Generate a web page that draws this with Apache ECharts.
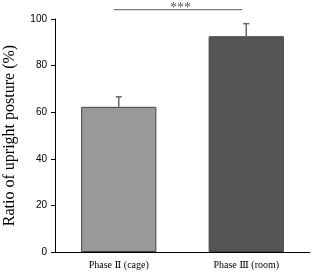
<!DOCTYPE html>
<html>
<head>
<meta charset="utf-8">
<title>Upright posture</title>
<script src="https://cdn.jsdelivr.net/npm/echarts@6/dist/echarts.min.js"></script>
<style>
html, body {
	margin: 0;
	padding: 0;
	background: #fff;
}
#chart {
	width: 312px;
	height: 272px;
}
</style>
</head>
<body>
<div id="chart"></div>
<script type="text/javascript">
    // data
    var categories = ['Phase \u2161 (cage)', 'Phase \u2162 (room)'];
    var means = [62.3, 92.6];
    var errors = [4.3, 5.4];
    var barColors = ['#999999', '#555555'];
    var sigLabel = '***';
    var sigLevel = 104;

    var chart = echarts.init(document.getElementById('chart'));

    var barData = means.map(function (v, i) {
        return { value: v, itemStyle: { color: barColors[i] } };
    });
    var errData = means.map(function (v, i) {
        return [i, v, v + errors[i]];
    });

    var serif = '"Liberation Serif", "DejaVu Serif", serif';

    var option = {
        animation: false,
        grid: { left: 55, right: 2, top: 19, bottom: 20, outerBoundsMode: 'none' },
        xAxis: {
            type: 'category',
            data: categories,
            axisLine: { lineStyle: { color: '#000', width: 1 } },
            axisTick: { inside: true, length: 4, lineStyle: { color: '#000' } },
            axisLabel: {
                fontFamily: serif,
                fontSize: 10,
                color: '#000',
                margin: 8
            }
        },
        yAxis: {
            type: 'value',
            min: 0,
            max: 100,
            interval: 20,
            name: 'Ratio of upright posture (%)',
            nameLocation: 'middle',
            nameGap: 37,
            nameTextStyle: {
                fontFamily: serif,
                fontSize: 16,
                color: '#000'
            },
            splitLine: { show: false },
            axisLine: { show: true, lineStyle: { color: '#000', width: 1 } },
            axisTick: { show: true, length: 4, lineStyle: { color: '#000' } },
            axisLabel: {
                fontFamily: 'Arial, "Liberation Sans"',
                fontSize: 10,
                color: '#000',
                margin: 8
            }
        },
        series: [{
            type: 'bar',
            data: barData,
            barWidth: '59%',
            itemStyle: { borderColor: '#444', borderWidth: 1 }
        }, {
            // upper error bars
            type: 'custom',
            data: errData,
            z: 3,
            renderItem: function (params, api) {
                var lo = api.coord([api.value(0), api.value(1)]);
                var hi = api.coord([api.value(0), api.value(2)]);
                var st = { stroke: '#666', lineWidth: 1.5 };
                return {
                    type: 'group',
                    children: [{
                        type: 'line',
                        shape: { x1: lo[0], y1: lo[1], x2: hi[0], y2: hi[1] },
                        style: st
                    }, {
                        type: 'line',
                        shape: { x1: hi[0] - 3, y1: hi[1], x2: hi[0] + 3, y2: hi[1] },
                        style: st
                    }]
                };
            }
        }, {
            // significance bar
            type: 'custom',
            data: [[0, 1, sigLevel]],
            clip: false,
            renderItem: function (params, api) {
                var a = api.coord([api.value(0), api.value(2)]);
                var b = api.coord([api.value(1), api.value(2)]);
                return {
                    type: 'group',
                    children: [{
                        type: 'line',
                        shape: { x1: a[0] - 5, y1: a[1], x2: b[0] - 4, y2: b[1] },
                        style: { stroke: '#777', lineWidth: 1.2 }
                    }, {
                        type: 'text',
                        style: {
                            text: sigLabel,
                            x: (a[0] + b[0]) / 2 - 2,
                            y: a[1] - 1,
                            align: 'center',
                            verticalAlign: 'middle',
                            fontFamily: serif,
                            fontSize: 14,
                            fill: '#555'
                        }
                    }]
                };
            }
        }]
    };

    chart.setOption(option);
</script>
</body>
</html>
